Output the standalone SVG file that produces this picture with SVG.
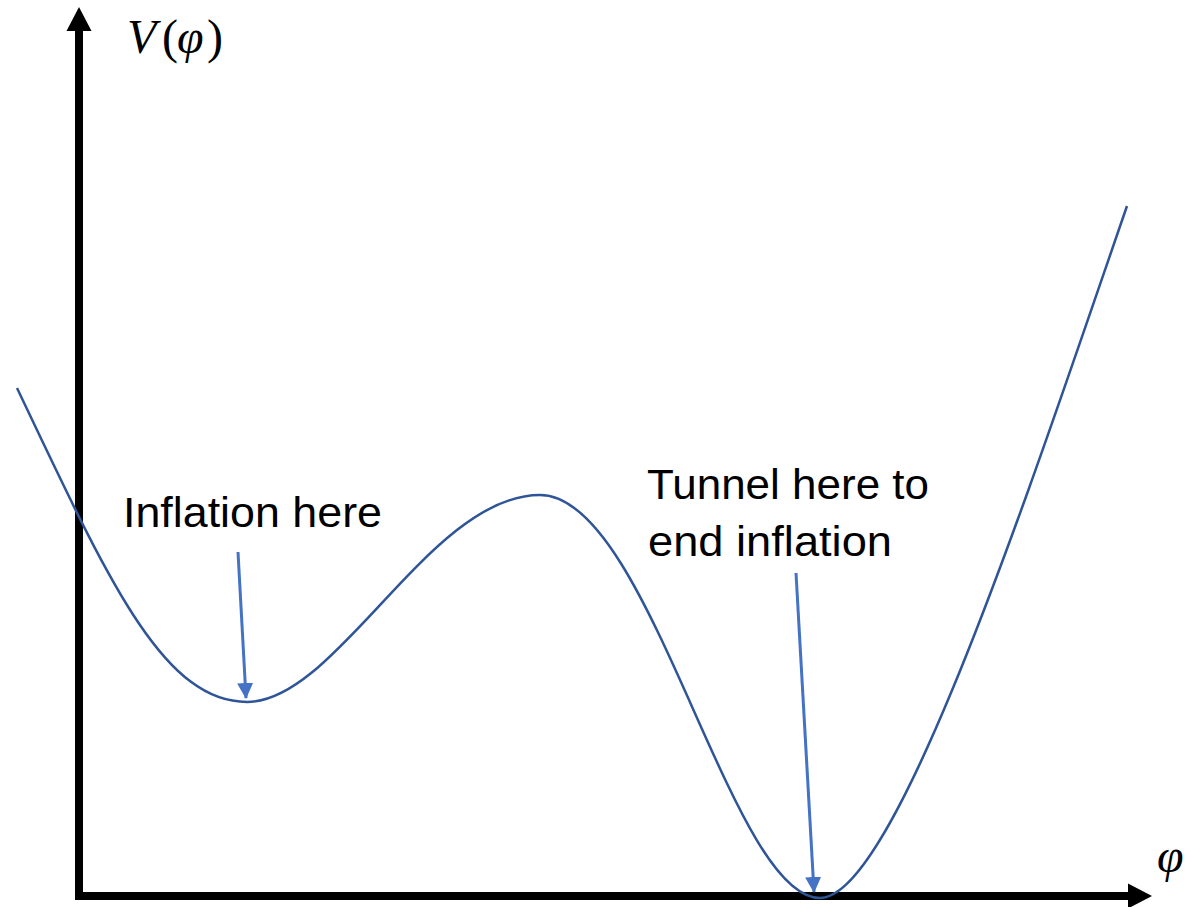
<svg xmlns="http://www.w3.org/2000/svg" width="1202" height="907" viewBox="0 0 1202 907">
  <style>
    .lbl { font-family: "Liberation Sans", Arial, sans-serif; font-size: 42px; fill: #000; }
    .math { font-family: "Liberation Serif", "DejaVu Serif", serif; font-size: 48px; fill: #000; }
    .it { font-style: italic; }
    .axis { stroke: #000; stroke-width: 8; fill: none; }
    .curve { stroke: #2F5597; stroke-width: 2.5; fill: none; }
    .ptr { stroke: #4472C4; stroke-width: 3; fill: none; }
  </style>
  <defs>
    <marker id="ah" markerUnits="userSpaceOnUse" markerWidth="16" markerHeight="16" viewBox="0 0 16 16" refX="15" refY="8" orient="auto">
      <path d="M0,0 L16,8 L0,16 Z" fill="#4472C4"/>
    </marker>
  </defs>
  <rect width="1202" height="907" fill="#fff"/>

  <g id="axes">
    <line class="axis" x1="79" y1="900" x2="79" y2="28"/>
    <polygon points="79,7 66.5,31 91.5,31" fill="#000"/>
    <line class="axis" x1="75" y1="896" x2="1130" y2="896"/>
    <polygon points="1152,896 1128,883.5 1128,908.5" fill="#000"/>
  </g>

  <g id="potential-curve">
    <path class="curve" d="M17,388 C107,577 162,702 247,702 C337,702 430,495 540,495 C650,495 730,898 820,898 C895,898 1027,496 1127,206"/>
  </g>

  <g id="axis-label-V">
    <text class="math" y="53"><tspan class="it" x="127">V</tspan><tspan x="162">(</tspan><tspan class="it" x="177">φ</tspan><tspan x="207">)</tspan></text>
  </g>
  <g id="axis-label-phi">
    <text class="math it" x="1157" y="872">φ</text>
  </g>

  <g id="label-inflation">
    <text class="lbl" x="123" y="527" textLength="259" lengthAdjust="spacingAndGlyphs">Inflation here</text>
  </g>
  <g id="label-tunnel">
    <text class="lbl" x="647" y="499" textLength="282" lengthAdjust="spacingAndGlyphs">Tunnel here to</text>
    <text class="lbl" x="648" y="556" textLength="244" lengthAdjust="spacingAndGlyphs">end inflation</text>
  </g>

  <g id="connectors">
    <line class="ptr" x1="238" y1="552" x2="246" y2="698" marker-end="url(#ah)"/>
    <line class="ptr" x1="796" y1="573" x2="814" y2="892" marker-end="url(#ah)"/>
  </g>
</svg>
